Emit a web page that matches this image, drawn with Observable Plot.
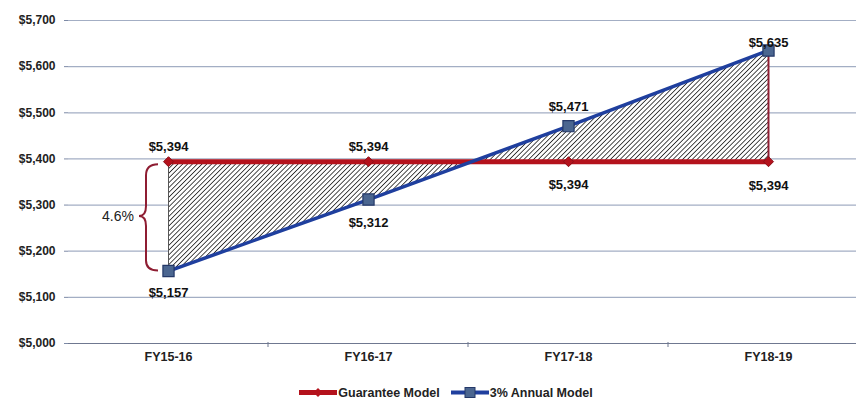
<!DOCTYPE html>
<html>
<head>
<meta charset="utf-8">
<script src="https://cdn.jsdelivr.net/npm/d3@7"></script>
<script src="https://cdn.jsdelivr.net/npm/@observablehq/plot@0.6"></script>
<style>
  body { margin: 0; background: #fff; font-family: "Liberation Sans", Arial, sans-serif; }
  #chart { width: 856px; }
  .legend { display: flex; justify-content: center; align-items: center; gap: 11px; height: 15px; font-size: 12.5px; font-weight: bold; color: #222; margin-left: 36px; }
  .legend span.item { display: flex; align-items: center; }
  .legend svg { margin-right: 1px; }
</style>
</head>
<body>
<div id="chart"></div>
<div class="legend" id="legend"></div>
<script>
// ---- data ----
const years = ["FY15-16", "FY16-17", "FY17-18", "FY18-19"];
const guarantee = [5394, 5394, 5394, 5394];
const annual = [5157, 5312, 5471, 5635];
const seriesNames = ["Guarantee Model", "3% Annual Model"];
const yTicks = [5000, 5100, 5200, 5300, 5400, 5500, 5600, 5700];
const gapLabel = "4.6%";

// ---- presentation ----
const RED = "#b4121c";
const BLUE = "#1f3f9e";
const SQ = "#4b6690";
const BRACE = "#8e1d32";
const guaranteeDy = [-15, -15, 23, 24];
const annualDy = [22, 23, -19, -8];

const rows = years.map((y, i) => ({year: y, g: guarantee[i], a: annual[i]}));
const fmt = d3.format("$,");

function brace(index, scales) {
  const x0 = scales.x(years[0]);
  const yTop = scales.y(guarantee[0]);
  const yBot = scales.y(annual[0]);
  const yMid = (yTop + yBot) / 2;
  const xt = x0 - 10, xs = x0 - 22, xm = x0 - 29;
  const d = `M${xt},${yTop + 3} Q${xs},${yTop + 3} ${xs},${yTop + 14} L${xs},${yMid - 10} Q${xs},${yMid} ${xm},${yMid} Q${xs},${yMid} ${xs},${yMid + 10} L${xs},${yBot - 10} Q${xs},${yBot} ${xt},${yBot}`;
  const g = d3.create("svg:g");
  g.append("path").attr("d", d).attr("fill", "none").attr("stroke", BRACE).attr("stroke-width", 2);
  g.append("text").attr("x", xm - 21).attr("y", yMid).attr("dy", "0.35em")
    .attr("text-anchor", "middle").attr("font-size", 14).attr("font-weight", "normal").attr("fill", "#222").text(gapLabel);
  return g.node();
}

// category-boundary tick marks on the bottom axis
function boundaryTicks(index, scales) {
  const y0 = scales.y(yTicks[0]);
  const g = d3.create("svg:g").attr("stroke", "#6f7890");
  for (let i = 1; i < years.length; i++) {
    const xb = (scales.x(years[i - 1]) + scales.x(years[i])) / 2;
    g.append("line").attr("x1", xb).attr("x2", xb).attr("y1", y0 - 1).attr("y2", y0 + 4);
  }
  return g.node();
}

const gLabels = rows.map((r, i) => Plot.text([r], {x: "year", y: "g", text: d => fmt(d.g), dy: guaranteeDy[i], fontSize: 13, fontWeight: "bold", fill: "#111"}));
const aLabels = rows.map((r, i) => Plot.text([r], {x: "year", y: "a", text: d => fmt(d.a), dy: annualDy[i], fontSize: 13, fontWeight: "bold", fill: "#111"}));

const plot = Plot.plot({
  width: 856,
  height: 385,
  marginLeft: 68,
  marginRight: 0,
  marginTop: 20,
  marginBottom: 42,
  style: {fontFamily: "'Liberation Sans', Arial, sans-serif", fontWeight: "bold", fontSize: "11px", color: "#222", background: "#fff"},
  x: {type: "point", domain: years, range: [68, 868], label: null},
  y: {domain: [5000, 5700], label: null},
  marks: [
    Plot.ruleY(yTicks.slice(1), {stroke: "#a3aec4", strokeWidth: 1.2}),
    Plot.ruleY([yTicks[0]], {stroke: "#6f7890", strokeWidth: 1.2}),
    boundaryTicks,
    Plot.areaY(rows, {x: "year", y1: "g", y2: "a", fill: "url(#hatch)", curve: "linear"}),
    Plot.ruleX([rows[0]], {x: "year", y1: "a", y2: "g", stroke: "#555", strokeWidth: 1}),
    Plot.ruleX([rows[3]], {x: "year", y1: "g", y2: "a", stroke: BRACE, strokeWidth: 2}),
    Plot.lineY(rows, {x: "year", y: "g", stroke: RED, strokeWidth: 5}),
    Plot.lineY(rows, {x: "year", y: "a", stroke: BLUE, strokeWidth: 3.5}),
    Plot.dot(rows, {x: "year", y: "g", symbol: "diamond2", r: 4.5, fill: RED, stroke: "#8a0f18", strokeWidth: 1}),
    Plot.dot(rows, {x: "year", y: "a", symbol: "square", r: 6.3, fill: SQ, stroke: "#243868", strokeWidth: 1.2}),
    ...gLabels,
    ...aLabels,
    Plot.axisY({ticks: yTicks, tickFormat: fmt, tickSize: 4, tickPadding: 9, fontSize: 12, fontWeight: "bold", stroke: "#7d8aa6"}),
    Plot.axisX({tickSize: 0, tickPadding: 9, fontSize: 12.5, fontWeight: "bold"}),
    brace
  ]
});
plot.insertAdjacentHTML("afterbegin",
  `<defs><pattern id="hatch" patternUnits="userSpaceOnUse" width="3.4" height="3.4" patternTransform="rotate(45)">
     <rect width="3.4" height="3.4" fill="#fff"/>
     <line x1="0" y1="0" x2="0" y2="3.4" stroke="#1e1e1e" stroke-width="1.6"/>
   </pattern></defs>`);
document.getElementById("chart").append(plot);

// legend
const legend = document.getElementById("legend");
const items = [
  {name: seriesNames[0], color: RED, shape: `<path d="M19,2 L23.5,6.5 L19,11 L14.5,6.5 Z" fill="${RED}"/>`, w: 5},
  {name: seriesNames[1], color: BLUE, shape: `<rect x="14" y="1.5" width="10" height="10" fill="${SQ}" stroke="#243868"/>`, w: 4}
];
for (const it of items) {
  const span = document.createElement("span");
  span.className = "item";
  span.innerHTML = `<svg width="38" height="13"><line x1="0" x2="38" y1="6.5" y2="6.5" stroke="${it.color}" stroke-width="${it.w}"/>${it.shape}</svg><span>${it.name}</span>`;
  legend.append(span);
}
</script>
</body>
</html>
